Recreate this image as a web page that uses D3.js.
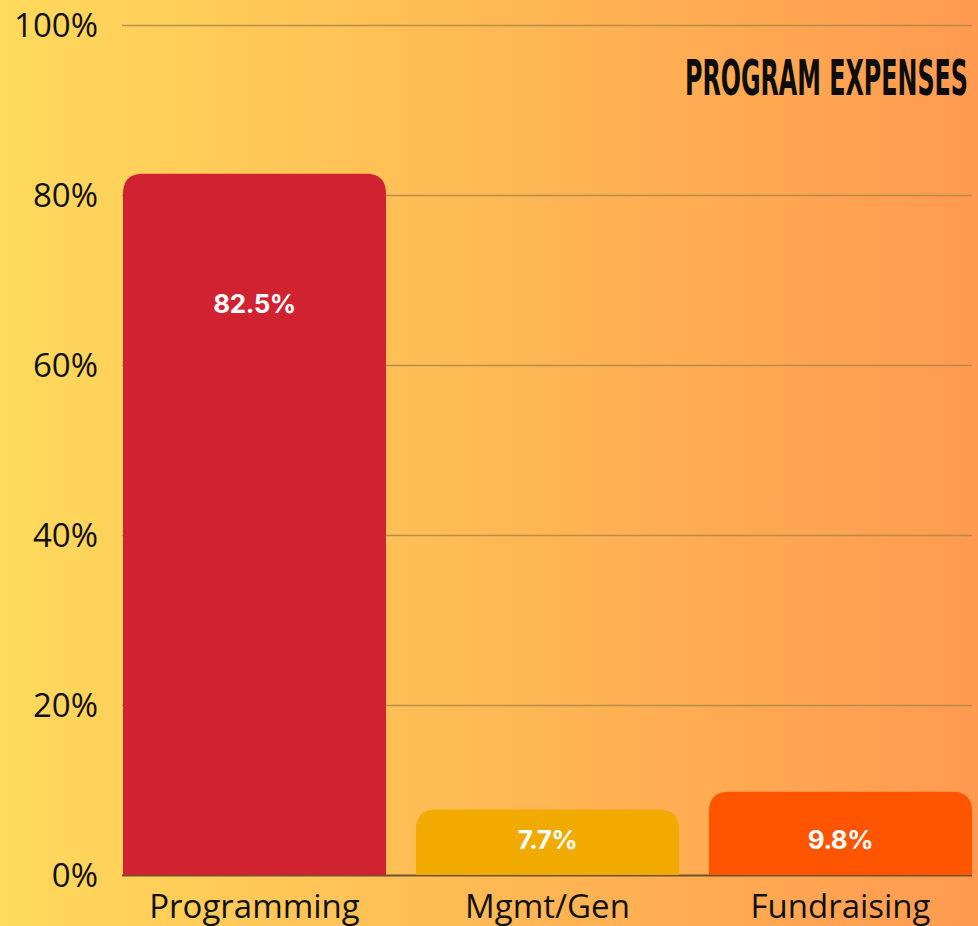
<!DOCTYPE html>
<html>
<head>
<meta charset="utf-8">
<script src="https://cdn.jsdelivr.net/npm/d3@7"></script>
<style>
  html, body { margin: 0; padding: 0; overflow: hidden; }
  #chart { width: 978px; height: 926px; }
</style>
</head>
<body>
<div id="chart"></div>
<script>
const categories = ['Programming', 'Mgmt/Gen', 'Fundraising']
const values = [82.5, 7.7, 9.8]
const valueLabels = ['82.5%', '7.7%', '9.8%']
const barColors = ['#d12232', '#f1aa00', '#ff5500']
const yTicks = [0, 20, 40, 60, 80, 100]
const title = 'PROGRAM EXPENSES'

const width = 978
const height = 926
const margin = { top: 25, right: 6, bottom: 51, left: 123 }

const svg = d3.select('#chart')
  .append('svg')
  .attr('width', width)
  .attr('height', height)
  .attr('viewBox', [0, 0, width, height].join(' '))

// background gradient
const grad = svg.append('defs')
  .append('linearGradient')
  .attr('id', 'bg')
  .attr('x1', '0%').attr('x2', '100%')
  .attr('y1', '0%').attr('y2', '0%')
grad.append('stop').attr('offset', '0%').attr('stop-color', '#ffda5c')
grad.append('stop').attr('offset', '50%').attr('stop-color', '#ffb954')
grad.append('stop').attr('offset', '100%').attr('stop-color', '#ff9a50')

svg.append('rect')
  .attr('width', width)
  .attr('height', height)
  .attr('fill', 'url(#bg)')

const x = d3.scaleBand()
  .domain(categories)
  .range([margin.left, width - margin.right])
  .paddingInner(30 / 293)
  .paddingOuter(0)

const y = d3.scaleLinear()
  .domain([0, 100])
  .range([height - margin.bottom, margin.top])

// grid
const yAxis = g => g
  .attr('transform', `translate(${margin.left - 1},0)`)
  .call(d3.axisLeft(y).tickValues(yTicks).tickFormat(d => d + '%').tickSize(0).tickPadding(24))
  .call(g => g.select('.domain').remove())
  .call(g => g.selectAll('.tick line').clone()
    .attr('x2', width - margin.left - margin.right + 1)
    .attr('stroke', d => d === 0 ? '#6e5328' : '#a8874a')
    .attr('stroke-opacity', d => d === 0 ? 1 : 0.85)
    .attr('stroke-width', d => d === 0 ? 2 : 1.6))
  .call(g => g.selectAll('.tick text')
    .attr('fill', '#111')
    .attr('font-size', 33)
    .attr('font-family', '"Open Sans", sans-serif')
    .attr('dy', '0.36em'))

svg.append('g').attr('class', 'y').call(yAxis)

// bars with rounded top corners
const r = 20
const barPath = (x0, y0, w, y1) => {
  const rr = Math.min(r, (y1 - y0) / 2, w / 2)
  return `M${x0},${y1}V${y0 + rr}Q${x0},${y0} ${x0 + rr},${y0}` +
    `H${x0 + w - rr}Q${x0 + w},${y0} ${x0 + w},${y0 + rr}V${y1}Z`
}

const data = categories.map((c, i) => ({ cat: c, value: values[i], label: valueLabels[i], color: barColors[i] }))

const bar = svg.append('g').attr('class', 'bars')
  .selectAll('g')
  .data(data)
  .join('g')

bar.append('path')
  .attr('d', d => barPath(x(d.cat), y(d.value), x.bandwidth(), y(0)))
  .attr('fill', d => d.color)

bar.append('text')
  .attr('x', d => x(d.cat) + x.bandwidth() / 2)
  .attr('y', d => Math.min(y(d.value) + 130, y(0) - 35))
  .attr('dy', '0.35em')
  .attr('text-anchor', 'middle')
  .attr('fill', '#fff')
  .attr('font-size', 26)
  .attr('font-weight', 700)
  .attr('font-family', 'Inter, Roboto, sans-serif')
  .attr('letter-spacing', -0.5)
  .text(d => d.label)

// x labels
svg.append('g').attr('class', 'x')
  .selectAll('text')
  .data(categories)
  .join('text')
  .attr('x', d => x(d) + x.bandwidth() / 2)
  .attr('y', y(0) + 43)
  .attr('text-anchor', 'middle')
  .attr('fill', '#111')
  .attr('font-size', 33)
  .attr('font-family', '"Open Sans", sans-serif')
  .text(d => d)

// title
svg.append('text')
  .attr('x', 968)
  .attr('y', 95)
  .attr('text-anchor', 'end')
  .attr('fill', '#0d0d0d')
  .attr('font-size', 50)
  .attr('font-weight', 700)
  .attr('font-family', '"Liberation Sans Narrow", "DejaVu Sans Condensed", sans-serif')
  .attr('textLength', 283)
  .attr('lengthAdjust', 'spacingAndGlyphs')
  .text(title)
</script>
</body>
</html>
